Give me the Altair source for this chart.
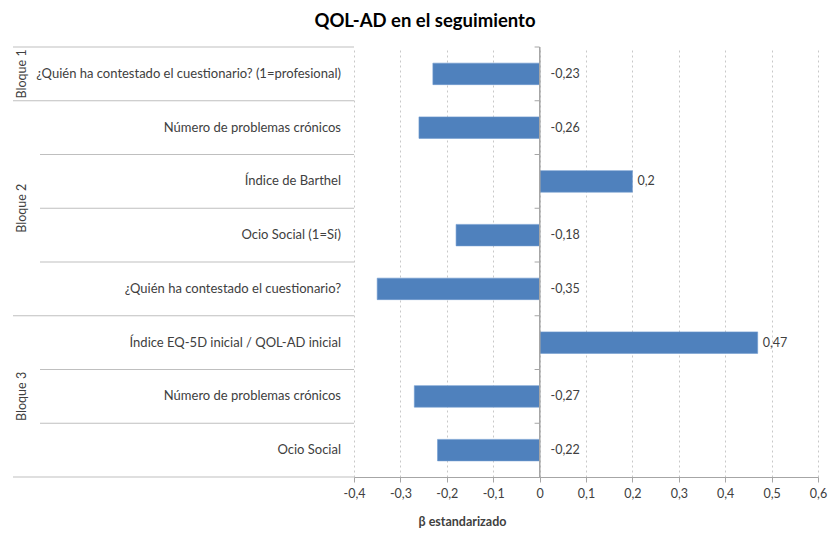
import altair as alt
import pandas as pd

# ---- data ----
row_ids = ["r1", "r2", "r3", "r4", "r5", "r6", "r7", "r8"]
row_labels = [
    "¿Quién ha contestado el cuestionario? (1=profesional)",
    "Número de problemas crónicos",
    "Índice de Barthel",
    "Ocio Social (1=Sí)",
    "¿Quién ha contestado el cuestionario?",
    "Índice EQ-5D inicial / QOL-AD inicial",
    "Número de problemas crónicos",
    "Ocio Social",
]
beta_values = [-0.23, -0.26, 0.2, -0.18, -0.35, 0.47, -0.27, -0.22]
block_start = [True, True, False, False, False, True, False, False]

block_names = ["Bloque 1", "Bloque 2", "Bloque 3"]
block_anchor = ["r1", "r3", "r7"]
block_between = [False, True, False]

x_ticks = [-0.4, -0.3, -0.2, -0.1, 0, 0.1, 0.2, 0.3, 0.4, 0.5, 0.6]

df = pd.DataFrame({"row": row_ids, "label": row_labels, "value": beta_values,
                   "start": block_start})
df["last"] = [False] * (len(row_ids) - 1) + [True]
blocks = pd.DataFrame({"block": block_names, "row": block_anchor,
                       "between": block_between})

FONT = "Lato"
TXT = "#404040"
W, H = 464, 430
STEP = H / len(row_ids)
HALF = STEP / 2

xscale = alt.Scale(domain=[-0.4, 0.6], nice=False, zero=False)
yscale = alt.Scale(domain=row_ids, paddingInner=0.6, paddingOuter=0.3)

base = alt.Chart(df)

y_enc = alt.Y("row:N", scale=yscale, axis=None)

tick_expr = "replace(replace(format(datum.value, '.1~f'), '.', ','), '\u2212', '-')"

bars = base.mark_bar(color="#4F81BD", stroke="#6E9BD0", strokeWidth=0.6).encode(
    x=alt.X("value:Q", scale=xscale,
            axis=alt.Axis(values=x_ticks, grid=True, gridDash=[2, 3], gridColor="#C8C8C8",
                          domainColor="#A6A6A6", tickColor="#A6A6A6", tickSize=5,
                          labelExpr=tick_expr,
                          labelColor=TXT, labelFont=FONT, labelFontSize=12.5, labelPadding=5,
                          title="β estandarizado", titleFont=FONT, titleFontSize=12.5,
                          titleFontWeight="bold", titleColor=TXT, titleX=108, titleY=44,
                          titleAlign="center", titleBaseline="middle")),
    x2=alt.datum(0),
    y=y_enc,
)

zero_line = alt.Chart(df).mark_rule(color="#A6A6A6", strokeWidth=1).encode(
    x=alt.datum(0), y=alt.value(0), y2=alt.value(H)
)

zero_ticks = base.mark_rule(color="#A6A6A6", xOffset=-5, yOffset=-HALF).encode(
    x=alt.datum(0, scale=xscale), x2=alt.datum(0), y=y_enc
)

sep_long = base.transform_filter("datum.start").mark_rule(
    color="#BFBFBF", strokeWidth=1.2, yOffset=-HALF).encode(
    x=alt.value(-341), x2=alt.value(0), y=y_enc)
sep_short = base.transform_filter("!datum.start").mark_rule(
    color="#BFBFBF", strokeWidth=1.2, yOffset=-HALF).encode(
    x=alt.value(-314), x2=alt.value(0), y=y_enc)
sep_bottom = base.transform_filter("datum.last").mark_rule(
    color="#BFBFBF", strokeWidth=1.2, yOffset=HALF).encode(
    x=alt.value(-341), x2=alt.value(0), y=y_enc)

row_text = base.mark_text(align="right", baseline="middle", font=FONT, fontSize=13,
                          color=TXT).encode(
    x=alt.value(-13), y=y_enc, text="label:N")

lab_calc = "replace(toString(datum.value), '.', ',')"
val_neg = base.transform_filter("datum.value < 0").transform_calculate(
    txt=lab_calc).mark_text(align="left", baseline="middle", dx=11, font=FONT,
                            fontSize=12.5, color=TXT).encode(
    x=alt.datum(0), y=y_enc, text="txt:N")
val_pos = base.transform_filter("datum.value >= 0").transform_calculate(
    txt=lab_calc).mark_text(align="left", baseline="middle", dx=5, font=FONT,
                            fontSize=12.5, color=TXT).encode(
    x=alt.X("value:Q"), y=y_enc, text="txt:N")

bchart = alt.Chart(blocks)
block_center = bchart.transform_filter("!datum.between").mark_text(
    angle=270, align="center", baseline="middle", font=FONT, fontSize=12.5, color=TXT).encode(
    x=alt.value(-332), y=y_enc, text="block:N")
block_mid = bchart.transform_filter("datum.between").mark_text(
    angle=270, align="center", baseline="middle", font=FONT, fontSize=12.5, color=TXT,
    yOffset=HALF).encode(
    x=alt.value(-332), y=y_enc, text="block:N")

chart = alt.layer(
    bars, zero_line, zero_ticks, sep_long, sep_short, sep_bottom, row_text,
    val_neg, val_pos, block_center, block_mid,
).properties(
    width=W, height=H,
    title=alt.TitleParams("QOL-AD en el seguimiento", font=FONT, fontSize=18.5,
                          fontWeight="bold", color="#000000", anchor="middle",
                          frame="group", dx=-161, offset=16),
    autosize="none",
    padding={"left": 346, "top": 39, "right": 10, "bottom": 53},
).configure_view(stroke=None).configure_axis(labelFlush=False)

chart.save("out.html", embed_options={"renderer": "svg", "actions": False})
